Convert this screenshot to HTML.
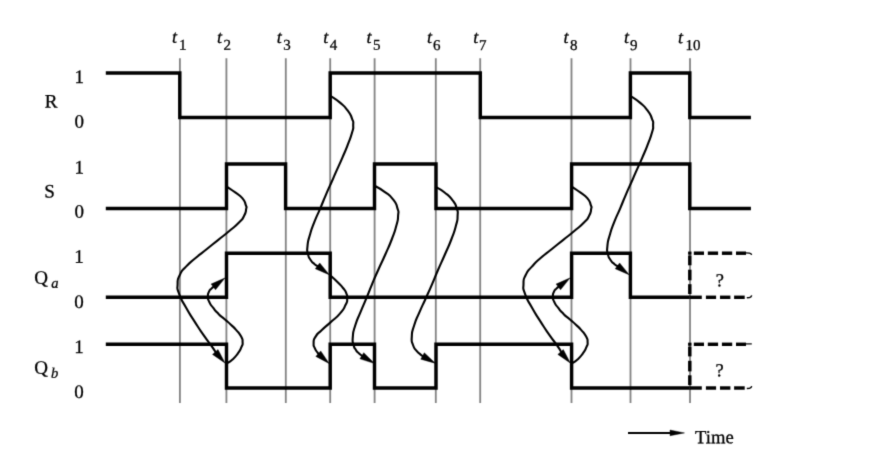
<!DOCTYPE html>
<html><head><meta charset="utf-8"><title>Timing diagram</title>
<style>
html,body{margin:0;padding:0;background:#fff;}
body{width:870px;height:453px;position:relative;overflow:hidden;font-family:"Liberation Serif",serif;}
</style></head><body>
<svg width="870" height="453" viewBox="0 0 870 453" style="position:absolute;left:0;top:0">
<rect width="870" height="453" fill="#fff"/>
<defs><filter id="soft" x="0" y="0" width="870" height="453" filterUnits="userSpaceOnUse" color-interpolation-filters="sRGB"><feConvolveMatrix order="3" kernelMatrix="0.01690 0.09620 0.01690 0.09620 0.54760 0.09620 0.01690 0.09620 0.01690" divisor="1" edgeMode="none" preserveAlpha="false"/></filter></defs>
<g filter="url(#soft)">
<line x1="179.9" y1="58.2" x2="179.9" y2="403" stroke="#858585" stroke-width="1.85"/>
<line x1="226.4" y1="58.2" x2="226.4" y2="403" stroke="#858585" stroke-width="1.85"/>
<line x1="285.8" y1="58.2" x2="285.8" y2="403" stroke="#858585" stroke-width="1.85"/>
<line x1="330.2" y1="58.2" x2="330.2" y2="403" stroke="#858585" stroke-width="1.85"/>
<line x1="374.6" y1="58.2" x2="374.6" y2="403" stroke="#858585" stroke-width="1.85"/>
<line x1="435.8" y1="58.2" x2="435.8" y2="403" stroke="#858585" stroke-width="1.85"/>
<line x1="480.2" y1="58.2" x2="480.2" y2="403" stroke="#858585" stroke-width="1.85"/>
<line x1="571.5" y1="58.2" x2="571.5" y2="403" stroke="#858585" stroke-width="1.85"/>
<line x1="630.5" y1="58.2" x2="630.5" y2="403" stroke="#858585" stroke-width="1.85"/>
<line x1="690.0" y1="58.2" x2="690.0" y2="403" stroke="#858585" stroke-width="1.85"/>
<path d="M105.8,72.9 L179.8,72.9 L179.8,117.4 L330.2,117.4 L330.2,72.9 L480.3,72.9 L480.3,117.4 L630.4,117.4 L630.4,72.9 L689.8,72.9 L689.8,117.4 L750.9,117.4" fill="none" stroke="#000" stroke-width="3.45" stroke-linejoin="miter"/>
<path d="M105.8,208.4 L226.5,208.4 L226.5,164.0 L285.6,164.0 L285.6,208.4 L374.5,208.4 L374.5,164.0 L436.0,164.0 L436.0,208.4 L571.6,208.4 L571.6,164.0 L689.8,164.0 L689.8,208.4 L750.9,208.4" fill="none" stroke="#000" stroke-width="3.45" stroke-linejoin="miter"/>
<path d="M105.8,297.3 L226.5,297.3 L226.5,253.2 L330.2,253.2 L330.2,297.3 L571.6,297.3 L571.6,253.2 L630.4,253.2 L630.4,297.3 L689.8,297.3" fill="none" stroke="#000" stroke-width="3.45" stroke-linejoin="miter"/>
<path d="M105.8,344.3 L226.5,344.3 L226.5,388.0 L330.2,388.0 L330.2,344.3 L374.5,344.3 L374.5,388.0 L436.0,388.0 L436.0,344.3 L571.6,344.3 L571.6,388.0 L689.8,388.0" fill="none" stroke="#000" stroke-width="3.45" stroke-linejoin="miter"/>
<line x1="689.8" y1="251.55" x2="689.8" y2="254.70" stroke="#000" stroke-width="3.45"/>
<line x1="689.8" y1="255.40" x2="689.8" y2="265.30" stroke="#000" stroke-width="3.45"/>
<line x1="689.8" y1="269.70" x2="689.8" y2="280.30" stroke="#000" stroke-width="3.45"/>
<line x1="689.8" y1="284.20" x2="689.8" y2="294.00" stroke="#000" stroke-width="3.45"/>
<line x1="693.8" y1="253.20" x2="704.0" y2="253.20" stroke="#000" stroke-width="3.45"/>
<line x1="707.8" y1="253.20" x2="718.1" y2="253.20" stroke="#000" stroke-width="3.45"/>
<line x1="721.9" y1="253.20" x2="732.2" y2="253.20" stroke="#000" stroke-width="3.45"/>
<line x1="736.0" y1="253.20" x2="746.0" y2="253.20" stroke="#000" stroke-width="3.45"/>
<line x1="689.8" y1="297.30" x2="701.8" y2="297.30" stroke="#000" stroke-width="3.45"/>
<line x1="705.9" y1="297.30" x2="716.1" y2="297.30" stroke="#000" stroke-width="3.45"/>
<line x1="720.0" y1="297.30" x2="730.4" y2="297.30" stroke="#000" stroke-width="3.45"/>
<line x1="734.1" y1="297.30" x2="744.7" y2="297.30" stroke="#000" stroke-width="3.45"/>
<path d="M745.5,252.90 L749.5,253.10 Q751.4,253.40 751.6,255.00" fill="none" stroke="#000" stroke-width="1.3"/>
<path d="M746.8,297.80 L749.6,297.50 Q751.4,297.20 751.7,295.40" fill="none" stroke="#000" stroke-width="1.4"/>
<line x1="689.8" y1="342.65" x2="689.8" y2="345.80" stroke="#000" stroke-width="3.45"/>
<line x1="689.8" y1="346.50" x2="689.8" y2="356.40" stroke="#000" stroke-width="3.45"/>
<line x1="689.8" y1="360.80" x2="689.8" y2="371.40" stroke="#000" stroke-width="3.45"/>
<line x1="689.8" y1="375.30" x2="689.8" y2="385.10" stroke="#000" stroke-width="3.45"/>
<line x1="693.8" y1="344.30" x2="704.0" y2="344.30" stroke="#000" stroke-width="3.45"/>
<line x1="707.8" y1="344.30" x2="718.1" y2="344.30" stroke="#000" stroke-width="3.45"/>
<line x1="721.9" y1="344.30" x2="732.2" y2="344.30" stroke="#000" stroke-width="3.45"/>
<line x1="736.0" y1="344.30" x2="746.0" y2="344.30" stroke="#000" stroke-width="3.45"/>
<line x1="689.8" y1="388.00" x2="701.8" y2="388.00" stroke="#000" stroke-width="3.45"/>
<line x1="705.9" y1="388.00" x2="716.1" y2="388.00" stroke="#000" stroke-width="3.45"/>
<line x1="720.0" y1="388.00" x2="730.4" y2="388.00" stroke="#000" stroke-width="3.45"/>
<line x1="734.1" y1="388.00" x2="744.7" y2="388.00" stroke="#000" stroke-width="3.45"/>
<path d="M745.5,343.90 L751.8,343.90" fill="none" stroke="#000" stroke-width="1.2"/>
<path d="M746.8,388.50 L749.6,388.20 Q751.4,387.90 751.7,386.10" fill="none" stroke="#000" stroke-width="1.4"/>
<path d="M227.50,187.10 C230.20,188.97 230.67,189.00 235.60,192.70 C240.53,196.40 238.93,194.17 242.30,198.20 C245.67,202.23 244.43,201.07 245.70,204.80 C246.97,208.53 246.67,205.67 246.10,209.40 C245.53,213.13 246.37,211.63 244.00,216.00 C241.63,220.37 244.00,217.40 239.00,222.50 C234.00,227.60 236.00,225.43 229.00,231.30 C222.00,237.17 225.37,234.20 218.00,240.10 C210.63,246.00 214.27,243.10 206.90,249.00 C199.53,254.90 202.87,251.93 195.90,257.80 C188.93,263.67 191.37,260.87 186.00,266.60 C180.63,272.33 182.60,269.10 179.80,275.00 C177.00,280.90 177.77,277.87 177.60,284.30 C177.43,290.73 176.50,286.57 179.30,294.30 C182.10,302.03 180.83,298.30 186.00,307.50 C191.17,316.70 188.93,312.70 194.80,321.90 C200.67,331.10 197.70,326.63 203.60,335.10 C209.50,343.57 208.39,341.43 212.50,347.30 C216.61,353.17 214.78,350.91 215.92,352.71" fill="none" stroke="#000" stroke-width="2.1" stroke-linecap="round"/>
<path d="M225.20,363.20 L212.53,354.38 L217.99,349.55 Z" fill="#000" stroke="#000" stroke-width="0.4" stroke-linejoin="round"/>
<path d="M227.00,363.20 C228.83,361.97 228.87,362.80 232.50,359.50 C236.13,356.20 234.93,357.43 237.90,353.30 C240.87,349.17 239.83,350.87 241.40,347.10 C242.97,343.33 242.73,345.60 242.60,342.00 C242.47,338.40 243.10,340.27 241.00,336.30 C238.90,332.33 239.67,333.97 236.30,330.10 C232.93,326.23 234.77,328.30 230.90,324.70 C227.03,321.10 228.83,322.90 224.70,319.30 C220.57,315.70 222.37,317.77 218.50,313.90 C214.63,310.03 216.17,311.67 213.10,307.70 C210.03,303.73 211.03,305.70 209.30,302.00 C207.57,298.30 208.03,300.00 207.90,296.60 C207.77,293.20 207.73,294.47 208.90,291.80 C210.07,289.13 209.67,290.43 211.40,288.60 C213.13,286.77 213.20,287.08 214.09,286.32" fill="none" stroke="#000" stroke-width="2.1" stroke-linecap="round"/>
<path d="M225.20,277.80 L215.52,289.83 L211.08,284.04 Z" fill="#000" stroke="#000" stroke-width="0.4" stroke-linejoin="round"/>
<path d="M330.80,96.00 C333.77,98.13 334.17,97.67 339.70,102.40 C345.23,107.13 343.30,104.80 347.40,110.20 C351.50,115.60 350.07,113.60 352.00,118.60 C353.93,123.60 353.20,120.47 353.20,125.20 C353.20,129.93 353.80,126.33 352.00,132.80 C350.20,139.27 351.03,136.27 347.80,144.60 C344.57,152.93 346.27,148.60 342.30,157.80 C338.33,167.00 339.47,164.13 335.90,172.20 C332.33,180.27 334.87,174.63 331.60,182.00 C328.33,189.37 329.87,185.53 326.10,194.30 C322.33,203.07 324.20,199.10 320.30,208.30 C316.40,217.50 317.90,212.93 314.40,221.90 C310.90,230.87 312.10,227.10 309.80,235.20 C307.50,243.30 308.10,239.93 307.50,246.20 C306.90,252.47 306.97,249.40 308.00,254.00 C309.03,258.60 308.40,256.60 310.60,260.00 C312.80,263.40 312.03,262.04 314.60,264.20 C317.17,266.36 317.08,265.72 318.32,266.47" fill="none" stroke="#000" stroke-width="2.1" stroke-linecap="round"/>
<path d="M329.50,274.90 L315.32,268.79 L319.72,262.96 Z" fill="#000" stroke="#000" stroke-width="0.4" stroke-linejoin="round"/>
<path d="M330.00,275.00 C332.57,277.40 333.37,277.87 337.70,282.20 C342.03,286.53 340.13,284.30 343.00,288.00 C345.87,291.70 344.90,289.70 346.30,293.30 C347.70,296.90 347.43,294.97 347.20,298.80 C346.97,302.63 348.03,299.87 345.60,304.80 C343.17,309.73 345.03,307.67 339.90,313.60 C334.77,319.53 336.30,317.07 330.20,322.60 C324.10,328.13 326.47,325.53 321.60,330.20 C316.73,334.87 318.27,332.33 315.60,336.60 C312.93,340.87 313.83,339.07 313.60,343.00 C313.37,346.93 313.63,345.27 314.90,348.40 C316.17,351.53 316.03,350.42 317.40,352.40 C318.77,354.38 318.46,353.69 319.00,354.33" fill="none" stroke="#000" stroke-width="2.1" stroke-linecap="round"/>
<path d="M329.40,363.70 L315.81,356.38 L320.70,350.95 Z" fill="#000" stroke="#000" stroke-width="0.4" stroke-linejoin="round"/>
<path d="M374.90,186.00 C378.00,187.87 378.17,187.17 384.20,191.60 C390.23,196.03 388.60,193.80 393.00,199.30 C397.40,204.80 395.70,202.60 397.40,208.10 C399.10,213.60 398.47,209.90 398.10,215.80 C397.73,221.70 398.37,218.07 396.30,225.80 C394.23,233.53 395.57,229.43 391.90,239.00 C388.23,248.57 389.87,244.17 385.30,254.50 C380.73,264.83 382.63,260.07 378.20,270.00 C373.77,279.93 376.00,274.73 372.00,284.30 C368.00,293.87 370.00,289.50 366.20,298.70 C362.40,307.90 364.23,303.07 360.60,311.90 C356.97,320.73 357.90,316.83 355.30,325.20 C352.70,333.57 353.37,330.40 352.80,337.00 C352.23,343.60 352.60,340.73 353.60,345.00 C354.60,349.27 354.07,347.07 355.80,349.80 C357.53,352.53 356.51,351.04 358.80,353.20 C361.09,355.36 361.38,355.26 362.66,356.29" fill="none" stroke="#000" stroke-width="2.1" stroke-linecap="round"/>
<path d="M374.60,363.60 L359.90,358.87 L363.72,352.65 Z" fill="#000" stroke="#000" stroke-width="0.4" stroke-linejoin="round"/>
<path d="M436.00,187.10 C438.97,188.97 439.37,188.27 444.90,192.70 C450.43,197.13 448.70,195.27 452.60,200.40 C456.50,205.53 454.93,202.97 456.60,208.10 C458.27,213.23 457.83,209.90 457.60,215.80 C457.37,221.70 457.93,218.07 455.90,225.80 C453.87,233.53 455.17,229.43 451.50,239.00 C447.83,248.57 449.40,244.17 444.90,254.50 C440.40,264.83 442.30,260.07 438.00,270.00 C433.70,279.93 436.13,274.73 432.00,284.30 C427.87,293.87 429.73,289.50 425.60,298.70 C421.47,307.90 423.40,303.07 419.60,311.90 C415.80,320.73 416.80,316.97 414.20,325.20 C411.60,333.43 412.20,330.00 411.80,336.60 C411.40,343.20 411.40,340.27 413.00,345.00 C414.60,349.73 414.07,347.60 416.60,350.80 C419.13,354.00 418.33,352.70 420.60,354.60 C422.87,356.50 422.48,355.87 423.42,356.51" fill="none" stroke="#000" stroke-width="2.1" stroke-linecap="round"/>
<path d="M435.60,363.40 L420.75,359.19 L424.34,352.84 Z" fill="#000" stroke="#000" stroke-width="0.4" stroke-linejoin="round"/>
<path d="M572.50,187.10 C575.20,188.97 575.67,189.00 580.60,192.70 C585.53,196.40 583.93,194.17 587.30,198.20 C590.67,202.23 589.43,201.07 590.70,204.80 C591.97,208.53 591.67,205.67 591.10,209.40 C590.53,213.13 591.37,211.63 589.00,216.00 C586.63,220.37 589.00,217.40 584.00,222.50 C579.00,227.60 581.00,225.43 574.00,231.30 C567.00,237.17 570.37,234.20 563.00,240.10 C555.63,246.00 559.27,243.10 551.90,249.00 C544.53,254.90 547.57,251.93 540.90,257.80 C534.23,263.67 536.97,260.87 531.90,266.60 C526.83,272.33 528.50,269.10 525.70,275.00 C522.90,280.90 523.67,277.87 523.50,284.30 C523.33,290.73 522.40,286.57 525.20,294.30 C528.00,302.03 526.73,298.30 531.90,307.50 C537.07,316.70 534.83,312.70 540.70,321.90 C546.57,331.10 543.60,326.63 549.50,335.10 C555.40,343.57 554.49,341.43 558.40,347.30 C562.31,353.17 560.28,350.91 561.22,352.71" fill="none" stroke="#000" stroke-width="2.1" stroke-linecap="round"/>
<path d="M570.50,363.20 L557.83,354.38 L563.29,349.55 Z" fill="#000" stroke="#000" stroke-width="0.4" stroke-linejoin="round"/>
<path d="M572.00,363.20 C573.83,361.97 573.87,362.80 577.50,359.50 C581.13,356.20 579.93,357.43 582.90,353.30 C585.87,349.17 584.83,350.87 586.40,347.10 C587.97,343.33 587.73,345.60 587.60,342.00 C587.47,338.40 588.10,340.27 586.00,336.30 C583.90,332.33 584.67,333.97 581.30,330.10 C577.93,326.23 579.77,328.30 575.90,324.70 C572.03,321.10 573.83,322.90 569.70,319.30 C565.57,315.70 567.37,317.77 563.50,313.90 C559.63,310.03 561.17,311.67 558.10,307.70 C555.03,303.73 556.03,305.70 554.30,302.00 C552.57,298.30 553.03,300.00 552.90,296.60 C552.77,293.20 552.73,294.47 553.90,291.80 C555.07,289.13 554.67,290.43 556.40,288.60 C558.13,286.77 558.20,287.08 559.09,286.32" fill="none" stroke="#000" stroke-width="2.1" stroke-linecap="round"/>
<path d="M570.20,277.80 L560.52,289.83 L556.08,284.04 Z" fill="#000" stroke="#000" stroke-width="0.4" stroke-linejoin="round"/>
<path d="M630.70,96.00 C633.67,98.13 634.07,97.67 639.60,102.40 C645.13,107.13 643.20,104.80 647.30,110.20 C651.40,115.60 649.97,113.60 651.90,118.60 C653.83,123.60 653.10,120.47 653.10,125.20 C653.10,129.93 653.70,126.33 651.90,132.80 C650.10,139.27 650.93,136.27 647.70,144.60 C644.47,152.93 646.17,148.60 642.20,157.80 C638.23,167.00 639.37,164.13 635.80,172.20 C632.23,180.27 634.77,174.63 631.50,182.00 C628.23,189.37 629.77,185.53 626.00,194.30 C622.23,203.07 624.10,199.10 620.20,208.30 C616.30,217.50 617.80,212.93 614.30,221.90 C610.80,230.87 612.00,227.10 609.70,235.20 C607.40,243.30 608.00,239.93 607.40,246.20 C606.80,252.47 606.87,249.40 607.90,254.00 C608.93,258.60 608.30,256.60 610.50,260.00 C612.70,263.40 611.93,262.04 614.50,264.20 C617.07,266.36 616.98,265.72 618.22,266.47" fill="none" stroke="#000" stroke-width="2.1" stroke-linecap="round"/>
<path d="M629.40,274.90 L615.22,268.79 L619.62,262.96 Z" fill="#000" stroke="#000" stroke-width="0.4" stroke-linejoin="round"/>
<line x1="628" y1="432.9" x2="672" y2="432.9" stroke="#000" stroke-width="2.0"/>
<path d="M684.5,432.9 L670.0,430.0 L670.0,435.8 Z" fill="#000" stroke="#000" stroke-width="0.4" stroke-linejoin="round"/>
<g font-family="'Liberation Serif', serif" fill="#000" stroke="#000" stroke-width="0.3" text-rendering="geometricPrecision" transform="rotate(0.03 435 226)">
<text x="171.84" y="43.0" font-size="18" font-style="italic" text-anchor="start">t</text>
<text x="179.0" y="49.9" font-size="15" text-anchor="start">1</text>
<text x="216.84" y="43.0" font-size="18" font-style="italic" text-anchor="start">t</text>
<text x="223.4" y="49.9" font-size="15" text-anchor="start">2</text>
<text x="276.64" y="43.0" font-size="18" font-style="italic" text-anchor="start">t</text>
<text x="283.1" y="49.9" font-size="15" text-anchor="start">3</text>
<text x="323.24" y="43.0" font-size="18" font-style="italic" text-anchor="start">t</text>
<text x="329.6" y="49.9" font-size="15" text-anchor="start">4</text>
<text x="366.44" y="43.0" font-size="18" font-style="italic" text-anchor="start">t</text>
<text x="372.9" y="49.9" font-size="15" text-anchor="start">5</text>
<text x="426.84" y="43.0" font-size="18" font-style="italic" text-anchor="start">t</text>
<text x="432.8" y="49.9" font-size="15" text-anchor="start">6</text>
<text x="473.24" y="43.0" font-size="18" font-style="italic" text-anchor="start">t</text>
<text x="478.9" y="49.9" font-size="15" text-anchor="start">7</text>
<text x="563.44" y="43.0" font-size="18" font-style="italic" text-anchor="start">t</text>
<text x="569.9" y="49.9" font-size="15" text-anchor="start">8</text>
<text x="623.84" y="43.0" font-size="18" font-style="italic" text-anchor="start">t</text>
<text x="630.0" y="49.9" font-size="15" text-anchor="start">9</text>
<text x="677.84" y="43.0" font-size="18" font-style="italic" text-anchor="start">t</text>
<text x="685.3" y="49.9" font-size="15" text-anchor="start">10</text>
<text x="74.4" y="83.2" font-size="19" text-anchor="start">1</text>
<text x="74.4" y="128.0" font-size="19" text-anchor="start">0</text>
<text x="44.7" y="107.6" font-size="19" text-anchor="start">R</text>
<text x="74.4" y="173.6" font-size="19" text-anchor="start">1</text>
<text x="74.4" y="218.0" font-size="19" text-anchor="start">0</text>
<text x="44.3" y="197.7" font-size="19" text-anchor="start">S</text>
<text x="74.4" y="263.0" font-size="19" text-anchor="start">1</text>
<text x="74.4" y="308.2" font-size="19" text-anchor="start">0</text>
<text x="34.4" y="284.0" font-size="19" text-anchor="start">Q</text>
<text x="51.3" y="288.0" font-size="14.5" font-style="italic" text-anchor="start">a</text>
<text x="74.4" y="353.3" font-size="19" text-anchor="start">1</text>
<text x="74.4" y="398.2" font-size="19" text-anchor="start">0</text>
<text x="34.4" y="374.0" font-size="19" text-anchor="start">Q</text>
<text x="51.0" y="378.0" font-size="14.5" font-style="italic" text-anchor="start">b</text>
<text x="715.7" y="286.0" font-size="18.4" text-anchor="start">?</text>
<text x="715.6" y="376.2" font-size="18.4" text-anchor="start">?</text>
<text x="695.2" y="443.1" font-size="18.6">Time</text>
</g>
</g>
</svg>
</body></html>
